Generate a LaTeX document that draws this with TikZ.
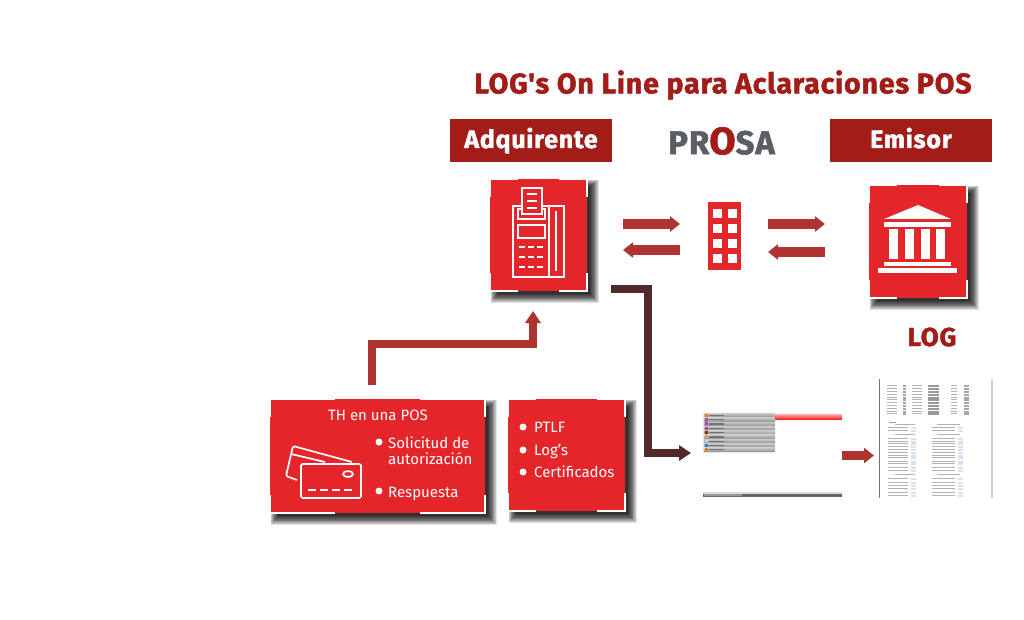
\documentclass[tikz,border=0pt]{standalone}
\usepackage{fontspec}
\setmainfont{Fira Sans}
\newfontfamily\gruesa[FakeBold=1.6,LetterSpace=3]{Fira Sans Bold}
\usetikzlibrary{arrows.meta,fit,calc}
\definecolor{rojo}{RGB}{228,38,42}
\definecolor{vino}{RGB}{162,28,24}
\definecolor{flecha}{RGB}{173,52,48}
\definecolor{cafe}{RGB}{82,40,42}
\definecolor{gris}{RGB}{92,94,102}
\definecolor{celda}{RGB}{214,226,238}
\tikzset{
  caja/.style={fill=rojo,inner sep=0pt},
  encabezado/.style={fill=vino,text=white,inner sep=0pt,text height=17pt,text depth=2pt,font=\gruesa\fontsize{25}{25}\selectfont},
  texto/.style={text=white,inner sep=0pt,anchor=base west,font=\fontsize{15}{15}\selectfont},
  punto/.style={fill=white,circle,inner sep=0pt,minimum size=7pt},
  icono/.style={draw=white,line width=1.2pt},
  trazo/.style={white,line width=1.7pt},
  tubo/.style={line width=8pt,-{Triangle[length=12pt,width=15pt]}},
  par/.style={flecha,line width=9.5pt,-{Triangle[length=10pt,width=15pt]}},
  renglon/.style={fill=black!30},
}
% tarjeta con sombra y esquinas blancas: nombre, x0, y0, x1, y1, brazo
\newcommand{\tarjeta}[6]{
  \foreach \d in {1,...,12}
    \fill[black,opacity=0.12] ({#2+9-0.7*\d},{#3+9-0.7*\d}) rectangle ({#4+2+0.8*\d},{#5+2+0.8*\d});
  \node[caja,fit={(#2,#3) (#4,#5)}] (#1) {};
  \draw[white,line width=2pt] (#2,{#3+18}) -- (#2,#3) -- ({#2+#6},#3);
  \draw[white,line width=2pt] ({#4-#6},#3) -- (#4,#3) -- (#4,{#3+18});
  \draw[white,line width=2pt] (#2,{#5-18}) -- (#2,#5) -- ({#2+#6},#5);
  \draw[white,line width=2pt] ({#4-#6},#5) -- (#4,#5) -- (#4,{#5-18});
}
\begin{document}
\begin{tikzpicture}[x=1pt,y=-1pt]

    \fill[white] (0,0) rectangle (1024,620);
    \useasboundingbox (0,0) rectangle (1024,620);

    \node[text=vino,inner sep=0pt,font=\gruesa\fontsize{28.5}{28.5}\selectfont] (titulo) at (723,85) {LOG's On Line para Aclaraciones POS};
    \node[encabezado,minimum width=162pt,minimum height=43pt] (adquirente) at (531,140.5) {Adquirente};
    \node[encabezado,minimum width=162pt,minimum height=43pt] (emisor) at (911,140.5) {Emisor};
    \node[text=gris,inner sep=0pt,font=\gruesa\fontsize{33}{33}\selectfont] (prosa) at (721.5,141) {PR\textcolor{vino}{\fontsize{38}{38}\selectfont O}SA};
    \node[text=vino,inner sep=0pt,font=\gruesa\fontsize{26}{26}\selectfont] (log) at (932,337) {LOG};

    \tarjeta{pos}{490}{179}{587}{291}{28}
    \tarjeta{banco}{869}{185}{967}{298}{28}
    \tarjeta{th}{270}{399}{485}{513}{65}
    \tarjeta{ptlf}{508}{399}{625}{511}{28}

    % terminal
    \draw[icono] (513,206) rectangle (564,277);
    \draw[icono] (549,206) -- (549,277);
    \draw[icono] (555.5,212) rectangle (556.5,270);
    \draw[icono] (518,209) rectangle (545,219);
    \draw[icono] (518,225) rectangle (545,238);
    \draw[icono,fill=rojo] (522,188) rectangle (542,214);
    \foreach \y in {194,201,208}
        \draw[white,line width=1.2pt] (527,\y) -- (537,\y);
    \foreach \y in {247,257,267}
        \foreach \x in {519,528,537}
            \draw[white,line width=1.2pt] (\x,\y) -- ({\x+6},\y);

    % edificio
    \node[caja,fit={(708,202) (741,270)}] (edificio) {};
    \foreach \y in {209,224,239,254}
        \foreach \x in {713,728}
            \fill[white] (\x,\y) rectangle ({\x+9},{\y+9});

    % banco
    \fill[white] (884,219) -- (918,205) -- (951,219) -- cycle;
    \fill[white] (884,222) rectangle (951,227);
    \foreach \x in {889,905,921,936}
        \fill[white] (\x,229) rectangle ({\x+9},259);
    \fill[white] (884,262) rectangle (951,266);
    \fill[white] (878,268) rectangle (957,273);

    % tarjetas de credito
    \draw[trazo,rounded corners=1.5pt] (301,464) rectangle (361,498);
    \draw[trazo,rounded corners=1.5pt] (297,480) -- (286,476) -- (293,446) -- (352,462);
    \draw[trazo] (291,454) -- (325,462);
    \draw[trazo] (348,474) ellipse (5 and 3);
    \foreach \x in {308,320,332,344}
        \draw[trazo] (\x,490) -- ({\x+8},490);

    % textos
    \node[text=white,inner sep=0pt,font=\fontsize{15}{15}\selectfont] (thtitulo) at (378,415.5) {TH en una POS};
    \node[punto] (p1) at (379,442) {};
    \node[texto] (solicitud) at (388,448) {Solicitud de};
    \node[texto] (autorizacion) at (388,464) {autorización};
    \node[punto] (p2) at (379,491) {};
    \node[texto] (respuesta) at (388,497) {Respuesta};
    \node[punto] (p3) at (523,427) {};
    \node[texto] (ptlftxt) at (534,432) {PTLF};
    \node[punto] (p4) at (523,450) {};
    \node[texto] (logs) at (534,455) {Log's};
    \node[punto] (p5) at (523,472) {};
    \node[texto] (certificados) at (534,477) {Certificados};

    % flechas
    \coordinate (a1) at (623,224); \coordinate (a2) at (680,224);
    \coordinate (b1) at (680,250); \coordinate (b2) at (623,250);
    \coordinate (c1) at (768,224); \coordinate (c2) at (825,224);
    \coordinate (d1) at (825,252); \coordinate (d2) at (768,252);
    \draw[par] (a1) -- (a2);
    \draw[par] (b1) -- (b2);
    \draw[par] (c1) -- (c2);
    \draw[par] (d1) -- (d2);
    \coordinate (e1) at (372,385); \coordinate (e2) at (533,311);
    \draw[tubo,flecha] (e1) |- ($(e1)!0.555!(e2)$) -| (e2);
    \coordinate (f1) at (611,289); \coordinate (f2) at (691,453);
    \draw[tubo,cafe] (f1) -| (648,453) -- (f2);
    \coordinate (g1) at (842,455.5); \coordinate (g2) at (874,455.5);
    \draw[par] (g1) -- (g2);

    % pantalla
    \fill[black!10] (703,413) rectangle (775,452.5);
    \foreach \c [count=\i from 0] in {orange,violet!70,violet!70,violet!70,vino,yellow!70!black,black!15,cyan!70!blue,orange}{
        \shade[top color=black!22,bottom color=black!42] (704,{413.4+4.3*\i}) rectangle (775,{417.2+4.3*\i});
        \fill[\c] (704.5,{413.8+4.3*\i}) rectangle (707.5,{416.6+4.3*\i});
        \fill[black!55] (709,{414.8+4.3*\i}) rectangle (724,{416+4.3*\i});
    }
    \shade[top color=red!30,bottom color=red!85] (775,414) rectangle (842,419);
    \fill[black!15] (703,492) rectangle (842,497);
    \fill[black!60] (703,493.5) rectangle (842,496.5);
    \fill[black!40] (704,494) rectangle (742,496);

    % documento
    \draw[black!55,line width=1pt] (879,379) -- (879,498);
    \draw[black!18,line width=2.5pt] (992,379) -- (992,498);
    \foreach \y in {385,388,391,394,397,399,402,405,408,411,413}{
        \fill[renglon] (887,\y) rectangle (897,{\y+1.2});
        \fill[black!35] (903,\y) rectangle (906,{\y+1.5});
        \fill[renglon] (912,\y) rectangle (922,{\y+1.2});
        \fill[black!40] (928,\y) rectangle (939,{\y+1.5});
        \fill[renglon] (951,\y) rectangle (957,{\y+1.2});
        \fill[black!35] (964,\y) rectangle (969,{\y+1.5});
    }
    \fill[black!40] (889,421.5) rectangle (896,422.7);
    \foreach \y in {424,434,474}{
        \fill[renglon] (895,\y) rectangle (915,{\y+1.2});
        \fill[renglon] (937,\y) rectangle (960,{\y+1.2});
    }
    \foreach \y in {427,430,438,441,443,446,449,452,455,457,461,463,467,470,478,482,485,488,492,495}{
        \fill[renglon] (888,\y) rectangle (908,{\y+1.2});
        \fill[celda] (911,{\y-0.5}) rectangle (916,{\y+1.5});
        \fill[renglon] (932,\y) rectangle (955,{\y+1.2});
        \fill[celda] (958,{\y-0.5}) rectangle (963,{\y+1.5});
    }

\end{tikzpicture}
\end{document}
